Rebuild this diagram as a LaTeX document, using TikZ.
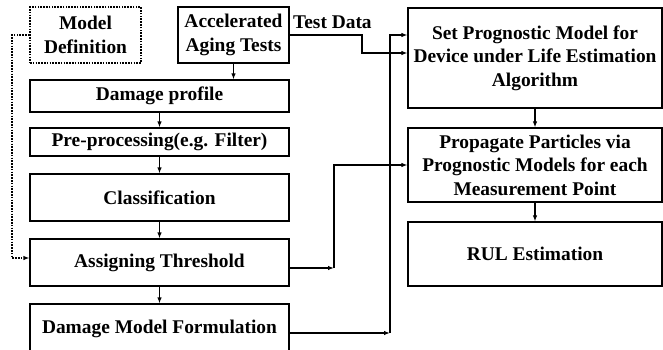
\documentclass[tikz,border=0pt]{standalone}
\usepackage{fontspec}
\setmainfont{Liberation Serif}
\usetikzlibrary{arrows.meta}

\begin{document}
\begin{tikzpicture}[x=1pt,y=-1pt,line width=1.2pt,
    font=\fontsize{19.4}{23.5}\selectfont\bfseries,
    box/.style={draw,align=center,inner sep=2pt},
    dotbox/.style={box,dash pattern=on 1.6pt off 1.2pt},
    arr/.style={-{Latex[length=6pt,width=4.5pt]}}]
  \useasboundingbox (0,0) rectangle (663,350);

  \node (md) [dotbox,minimum width=111pt,minimum height=56pt] at (85.5,35) {Model\\Definition};
  \node (aat) [box,minimum width=111pt,minimum height=56pt] at (233.5,35) {Accelerated\\Aging Tests};
  \node (dp) [box,minimum width=259pt,minimum height=32pt] at (159.5,96) {Damage profile};
  \node (pp) [box,minimum width=259pt,minimum height=28pt] at (159.5,142) {Pre-processing(e.g. Filter)};
  \node (cl) [box,minimum width=259pt,minimum height=47pt] at (159.5,197.5) {Classification};
  \node (at) [box,minimum width=259pt,minimum height=47pt] at (159.5,262.5) {Assigning Threshold};
  \node (dmf) [box,minimum width=259pt,minimum height=50pt] at (159.5,329) {Damage Model Formulation};

  \node (spm) [box,minimum width=254pt,minimum height=100pt] at (535,58)
    {Set Prognostic Model for\\Device under Life Estimation\\Algorithm};
  \node (ppm) [box,minimum width=254pt,minimum height=74pt] at (535,165)
    {Propagate Particles via\\Prognostic Models for each\\Measurement Point};
  \node (rul) [box,minimum width=254pt,minimum height=64pt] at (535,254) {RUL Estimation};

  \node (tdl) [anchor=south west,inner sep=1pt] at ([xshift=2pt,yshift=5pt]aat.east) {Test Data};

  \coordinate (dl) at (12,258);
  \coordinate (td) at (362,35);
  \coordinate (j1) at (390,333);
  \coordinate (j2) at (334,268);

  \draw[arr,dash pattern=on 1.6pt off 1.2pt] (md.west) -| (dl) -- (dl -| at.west);
  \draw[arr] (aat.south) -- (aat.south |- dp.north);
  \draw[arr] (dp) -- (pp);
  \draw[arr] (pp) -- (cl);
  \draw[arr] (cl) -- (at);
  \draw[arr] (at) -- (dmf);
  \draw[arr] (spm) -- (ppm);
  \draw[arr] (ppm) -- (rul);

  \draw[arr] (aat.east) -- (td) |- ([yshift=5pt]spm.west);
  \draw[arr] ([yshift=-4pt]dmf.east) -- (j1);
  \draw[arr] (j1) |- ([yshift=23pt]spm.west);
  \draw[arr] ([yshift=-5.5pt]at.east) -- (j2);
  \draw[arr] (j2) |- (ppm.west);
\end{tikzpicture}
\end{document}
